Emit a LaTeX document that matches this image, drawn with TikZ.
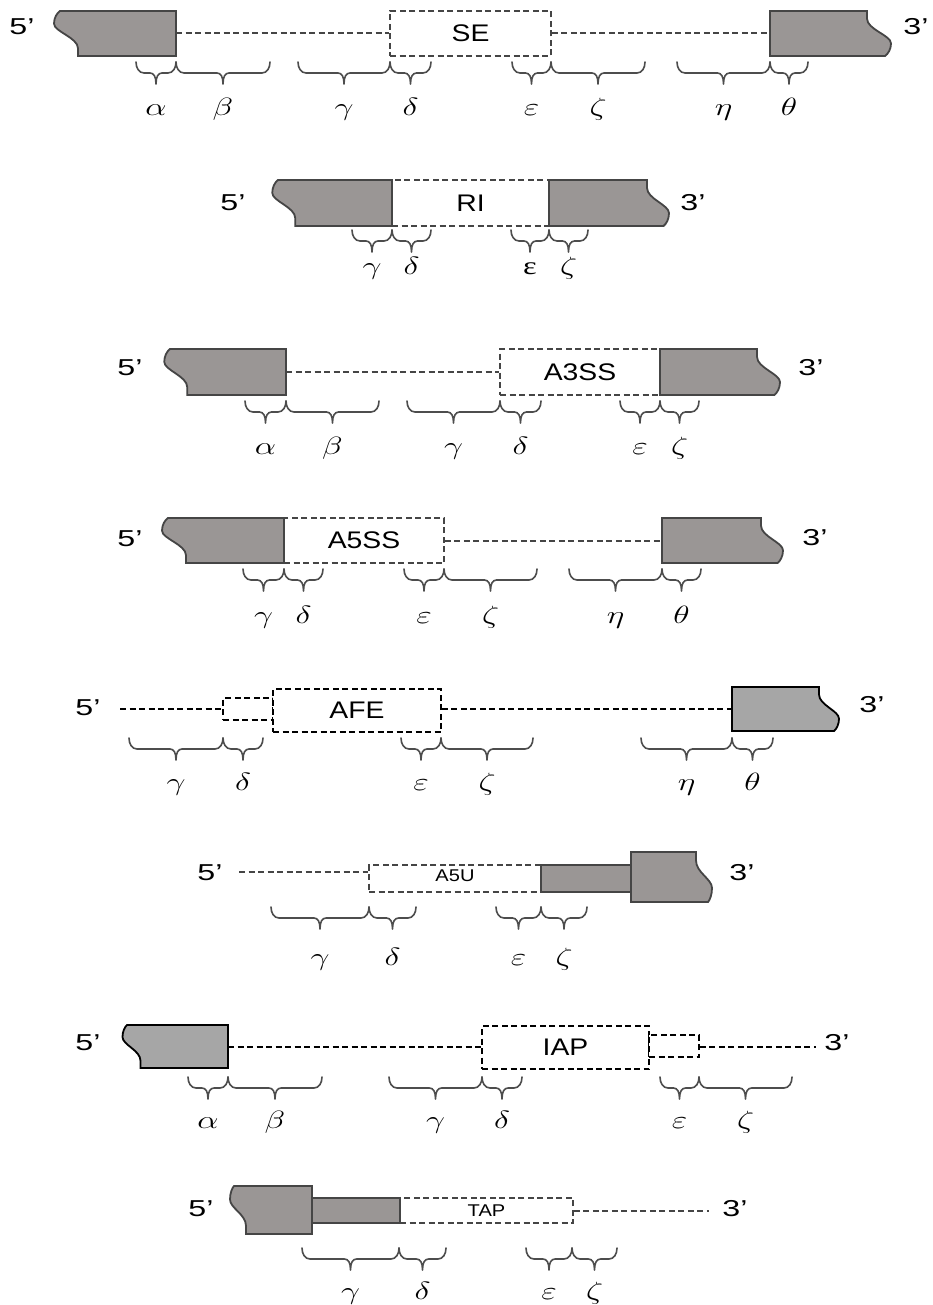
\RequirePackage{fix-cm}
\documentclass[tikz,border=0pt]{standalone}
\usepackage{graphicx}
\usepackage{fontspec}
\setmainfont{Liberation Sans}
\newfontfamily\serifgr{Liberation Serif}
\definecolor{exfill}{HTML}{9A9695}
\definecolor{exdraw}{HTML}{454545}
\definecolor{exfillb}{HTML}{A6A6A6}
\definecolor{brcol}{HTML}{4D4D4D}
\newcommand\gl[1]{\scalebox{1.35}[1]{$#1$}}
\newcommand\en[1]{\scalebox{1.4}[1]{#1}}
\newcommand\bx[1]{\scalebox{1.18}[1]{#1}}
\tikzset{
  exA/.style={fill=exfill, draw=exdraw, line width=1.8pt},
  exB/.style={fill=exfillb, draw=black, line width=1.8pt},
  dashA/.style={draw=exdraw, line width=1.5pt, dash pattern=on 6pt off 3.5pt},
  dashB/.style={draw=black, line width=1.6pt, dash pattern=on 6pt off 3.5pt},
  boxA/.style={dashA, rectangle, inner sep=0pt, fill=white},
  boxB/.style={dashB, rectangle, inner sep=0pt, fill=white},
  endlbl/.style={font=\fontsize{23}{23}\selectfont, inner sep=0pt},
  biglbl/.style={font=\fontsize{24}{24}\selectfont},
  smalllbl/.style={font=\fontsize{17}{17}\selectfont},
  glab/.style={font=\fontsize{25}{26}\selectfont, anchor=base, inner sep=0pt},
  brcs/.style={draw=brcol, line width=1.6pt, line cap=round, line join=round},
}
% left exon: style, top-left x, right x, top y, bottom y, wave width
\newcommand\lexon[6]{%
  \path[#1] (#2,#4) .. controls ({#2-#6/8},{#4+0.045*(#5-#4)}) and ({#2-#6/4},{#4+0.15*(#5-#4)}) .. ({#2-#6/4},{#4+0.28*(#5-#4)})
    .. controls ({#2-#6/4},{#4+0.46*(#5-#4)}) and ({#2+0.75*#6},{#4+0.59*(#5-#4)}) .. ({#2+0.75*#6},{#4+0.83*(#5-#4)})
    -- ({#2+0.75*#6},#5) -- (#3,#5) -- (#3,#4) -- cycle;}
% right exon: style, left x, top-right x, top y, bottom y, wave width
\newcommand\rexon[6]{%
  \path[#1] (#2,#4) -- (#3,#4) -- ({#3},{#4+0.17*(#5-#4)})
    .. controls ({#3},{#4+0.41*(#5-#4)}) and ({#3+#6},{#4+0.54*(#5-#4)}) .. ({#3+#6},{#4+0.72*(#5-#4)})
    .. controls ({#3+#6},{#4+0.85*(#5-#4)}) and ({#3+0.875*#6},{#4+0.957*(#5-#4)}) .. ({#3+0.75*#6},#5)
    -- (#2,#5) -- cycle;}
% brace: x1, x2, top y
\newcommand\mybrace[3]{%
  \pgfmathsetmacro\bmid{(#1+#2)/2}%
  \draw[brcs] (#1,#3) .. controls (#1,#3+6) and (#1+3,#3+11) .. (#1+8,#3+11) -- (\bmid-6,#3+11)
    .. controls (\bmid-2,#3+11) and (\bmid,#3+15) .. (\bmid,#3+22)
    .. controls (\bmid,#3+15) and (\bmid+2,#3+11) .. (\bmid+6,#3+11) -- (#2-8,#3+11)
    .. controls (#2-3,#3+11) and (#2,#3+6) .. (#2,#3);}
\begin{document}
\begin{tikzpicture}[x=1pt,y=-1pt]
\useasboundingbox[fill=white] (0,0) rectangle (933,1305);

% ---------------- Row 1: SE ----------------
\coordinate (r1a) at (176,33); \coordinate (r1b) at (770,33);
\node[boxA,biglbl,minimum width=161pt,minimum height=45pt] (se) at (470.5,33.5) {\bx{SE}};
\draw[dashA] (r1a) -- (se.west |- r1a);
\draw[dashA] (se.east |- r1b) -- (r1b);
\lexon{exA}{60}{176}{11}{56}{24}
\rexon{exA}{770}{867}{11}{56}{24}
\node[endlbl] (f5a) at (22,27) {\en{5’}};
\node[endlbl] (f3a) at (916,27) {\en{3’}};
\mybrace{136}{176}{62} \mybrace{176}{270}{62} \mybrace{298}{390}{62} \mybrace{390}{431}{62}
\mybrace{512}{551}{62} \mybrace{551}{645}{62} \mybrace{677}{770}{62} \mybrace{770}{808}{62}
\node[glab] (g1a) at (156,116) {\gl{\alpha}};
\node[glab] (g1b) at (223,116) {\gl{\beta}};
\node[glab] (g1c) at (344,116) {\gl{\gamma}};
\node[glab] (g1d) at (410.5,116) {\gl{\delta}};
\node[glab] (g1e) at (531.5,116) {\gl{\varepsilon}};
\node[glab] (g1f) at (598,116) {\gl{\zeta}};
\node[glab] (g1g) at (723.5,116) {\gl{\eta}};
\node[glab] (g1h) at (789,116) {\gl{\theta}};

% ---------------- Row 2: RI ----------------
\node[boxA,biglbl,minimum width=157pt,minimum height=46pt] (ri) at (470.5,203) {\bx{RI}};
\lexon{exA}{278}{392}{180}{226}{23}
\rexon{exA}{549}{647}{180}{226}{22}
\node[endlbl] (f5b) at (233,203) {\en{5’}};
\node[endlbl] (f3b) at (693,203) {\en{3’}};
\mybrace{352}{392}{230} \mybrace{392}{431}{230} \mybrace{511}{549}{230} \mybrace{549}{588}{230}
\node[glab] (g2c) at (372,275) {\gl{\gamma}};
\node[glab] (g2d) at (411.5,275) {\gl{\delta}};
\node[glab] (g2e) at (530,275) {\scalebox{1.3}[1]{\serifgr ε}};
\node[glab] (g2f) at (568.5,275) {\gl{\zeta}};

% ---------------- Row 3: A3SS ----------------
\coordinate (r3a) at (286,372);
\node[boxA,biglbl,minimum width=160pt,minimum height=46pt] (a3ss) at (580,372) {\bx{A3SS}};
\draw[dashA] (r3a) -- (a3ss.west |- r3a);
\lexon{exA}{170}{286}{349}{395}{23}
\rexon{exA}{660}{757}{349}{395}{23}
\node[endlbl] (f5c) at (130,368) {\en{5’}};
\node[endlbl] (f3c) at (811,368) {\en{3’}};
\mybrace{245}{286}{401} \mybrace{286}{379}{401} \mybrace{407}{500}{401} \mybrace{500}{541}{401}
\mybrace{620}{660}{401} \mybrace{660}{699}{401}
\node[glab] (g3a) at (265.5,454) {\gl{\alpha}};
\node[glab] (g3b) at (332.5,454) {\gl{\beta}};
\node[glab] (g3c) at (453.5,454) {\gl{\gamma}};
\node[glab] (g3d) at (520.5,454) {\gl{\delta}};
\node[glab] (g3e) at (640,454) {\gl{\varepsilon}};
\node[glab] (g3f) at (679.5,454) {\gl{\zeta}};

% ---------------- Row 4: A5SS ----------------
\coordinate (r4b) at (662,541);
\node[boxA,biglbl,minimum width=160pt,minimum height=45pt] (a5ss) at (364,540.5) {\bx{A5SS}};
\draw[dashA] (a5ss.east |- r4b) -- (r4b);
\lexon{exA}{168}{284}{518}{563}{24}
\rexon{exA}{662}{761}{518}{563}{22}
\node[endlbl] (f5d) at (130,539) {\en{5’}};
\node[endlbl] (f3d) at (815,538) {\en{3’}};
\mybrace{243}{284}{569} \mybrace{284}{323}{569} \mybrace{404}{444}{569} \mybrace{444}{537}{569}
\mybrace{569}{662}{569} \mybrace{662}{701}{569}
\node[glab] (g4c) at (263.5,623) {\gl{\gamma}};
\node[glab] (g4d) at (303.5,623) {\gl{\delta}};
\node[glab] (g4e) at (424,623) {\gl{\varepsilon}};
\node[glab] (g4f) at (490.5,623) {\gl{\zeta}};
\node[glab] (g4g) at (615.5,623) {\gl{\eta}};
\node[glab] (g4h) at (681.5,623) {\gl{\theta}};

% ---------------- Row 5: AFE ----------------
\coordinate (r5s) at (120,709); \coordinate (r5b) at (732,709);
\node[boxB,minimum width=50pt,minimum height=22pt] (afes) at (248,709) {};
\node[boxB,biglbl,minimum width=168pt,minimum height=43pt] (afe) at (357,710.5) {\bx{AFE}};
\draw[dashB] (r5s) -- (afes.west |- r5s);
\draw[dashB] (afe.east |- r5b) -- (r5b);
\rexon{exB}{732}{819}{687}{731}{20}
\node[endlbl] (f5e) at (88,708) {\en{5’}};
\node[endlbl] (f3e) at (872,705) {\en{3’}};
\mybrace{129}{223}{738} \mybrace{223}{263}{738} \mybrace{401}{441}{738} \mybrace{441}{533}{738}
\mybrace{641}{732}{738} \mybrace{732}{773}{738}
\node[glab] (g5c) at (176,790) {\gl{\gamma}};
\node[glab] (g5d) at (243,790) {\gl{\delta}};
\node[glab] (g5e) at (421,790) {\gl{\varepsilon}};
\node[glab] (g5f) at (487,790) {\gl{\zeta}};
\node[glab] (g5g) at (686.5,790) {\gl{\eta}};
\node[glab] (g5h) at (752.5,790) {\gl{\theta}};

% ---------------- Row 6: A5U ----------------
\coordinate (r6s) at (239,872);
\node[boxA,smalllbl,minimum width=172pt,minimum height=27pt] (a5u) at (455,878.5) {\raisebox{6pt}{\bx{A5U}}};
\draw[dashA] (r6s) -- (a5u.west |- r6s);
\path[exA] (541,865) rectangle (631,892);
\rexon{exA}{631}{696}{852}{902}{16}
\node[endlbl] (f5f) at (210,873) {\en{5’}};
\node[endlbl] (f3f) at (742,873) {\en{3’}};
\mybrace{271}{369}{907} \mybrace{369}{416}{907} \mybrace{496}{541}{907} \mybrace{541}{587}{907}
\node[glab] (g6c) at (320,965) {\gl{\gamma}};
\node[glab] (g6d) at (392.5,965) {\gl{\delta}};
\node[glab] (g6e) at (518.5,965) {\gl{\varepsilon}};
\node[glab] (g6f) at (564,965) {\gl{\zeta}};

% ---------------- Row 7: IAP ----------------
\coordinate (r7a) at (228,1047); \coordinate (r7e) at (816,1047);
\node[boxB,biglbl,minimum width=167pt,minimum height=43pt] (iap) at (565.5,1047.5) {\bx{IAP}};
\node[boxB,minimum width=50pt,minimum height=22pt] (iaps) at (674,1046) {};
\draw[dashB] (r7a) -- (iap.west |- r7a);
\draw[dashB] (iaps.east |- r7e) -- (r7e);
\lexon{exB}{127}{228}{1025}{1068}{18}
\node[endlbl] (f5g) at (88,1043) {\en{5’}};
\node[endlbl] (f3g) at (837,1043) {\en{3’}};
\mybrace{188}{228}{1077} \mybrace{228}{322}{1077} \mybrace{389}{482}{1077} \mybrace{482}{522}{1077}
\mybrace{660}{699}{1077} \mybrace{699}{792}{1077}
\node[glab] (g7a) at (208,1128) {\gl{\alpha}};
\node[glab] (g7b) at (275,1128) {\gl{\beta}};
\node[glab] (g7c) at (435.5,1128) {\gl{\gamma}};
\node[glab] (g7d) at (502,1128) {\gl{\delta}};
\node[glab] (g7e) at (679.5,1128) {\gl{\varepsilon}};
\node[glab] (g7f) at (745.5,1128) {\gl{\zeta}};

% ---------------- Row 8: TAP ----------------
\coordinate (r8e) at (709,1211);
\node[boxA,smalllbl,minimum width=173pt,minimum height=25pt] (tap) at (486.5,1210.5) {\bx{TAP}};
\draw[dashA] (tap.east |- r8e) -- (r8e);
\path[exA] (312,1198) rectangle (400,1223);
\lexon{exA}{234}{312}{1186}{1234}{16}
\node[endlbl] (f5h) at (201,1209) {\en{5’}};
\node[endlbl] (f3h) at (735,1209) {\en{3’}};
\mybrace{302}{399}{1248} \mybrace{399}{446}{1248} \mybrace{526}{572}{1248} \mybrace{572}{617}{1248}
\node[glab] (g8c) at (350.5,1299) {\gl{\gamma}};
\node[glab] (g8d) at (422.5,1299) {\gl{\delta}};
\node[glab] (g8e) at (549,1299) {\gl{\varepsilon}};
\node[glab] (g8f) at (594.5,1299) {\gl{\zeta}};
\end{tikzpicture}
\end{document}
